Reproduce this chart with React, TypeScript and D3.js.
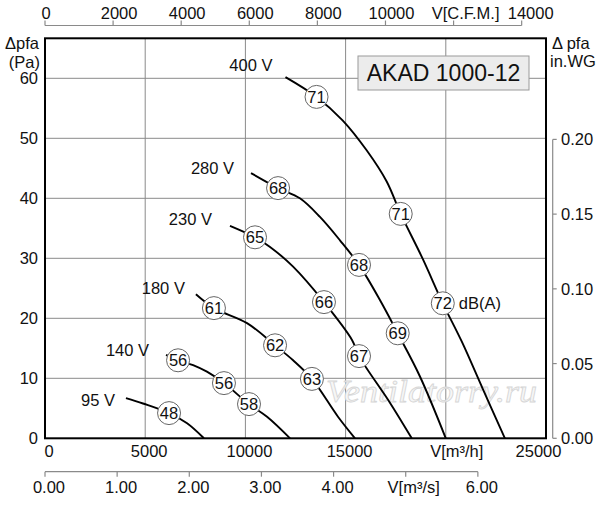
import React from 'react';
import * as d3 from 'd3';

const W = 600;
const H = 505;

// fan curves: [flow m³/h, static pressure Pa]
const curve400V: [number, number][] = [
  [12000, 60.2], [13550, 56.9], [14850, 53.0], [16050, 48.0], [17050, 42.8],
  [17750, 37.4], [18850, 29.9], [19850, 22.5], [20800, 16.1], [21850, 8.2], [22950, 0],
];
const curve280V: [number, number][] = [
  [10280, 44.2], [11630, 41.7], [12720, 40.0], [13720, 36.9], [14720, 33.0],
  [15670, 28.9], [16720, 23.0], [17600, 17.5], [18710, 10.3], [20000, 0],
];
const curve230V: [number, number][] = [
  [9230, 35.4], [10480, 33.5], [11230, 31.9], [12380, 28.6], [13920, 22.7],
  [15320, 16.4], [15670, 13.7], [17220, 5.9], [18300, 0],
];
const curve180V: [number, number][] = [
  [7530, 24.0], [8430, 21.7], [10080, 19.2], [11480, 15.5], [12380, 13.0],
  [13320, 9.9], [14620, 3.6], [15470, 0],
];
const curve140V: [number, number][] = [
  [6040, 13.9], [6640, 13.0], [7390, 12.2], [8080, 11.1], [8930, 9.2],
  [10180, 5.7], [11080, 3.6], [12230, 0],
];
const curve95V: [number, number][] = [
  [4040, 6.7], [4890, 5.8], [6190, 4.2], [7090, 2.5], [7930, 0],
];

// sound level marks: [flow, pressure, dB(A)]
const marks400V: [number, number, number][] = [[13550, 56.9, 71], [17750, 37.4, 71], [19850, 22.5, 72]];
const marks280V: [number, number, number][] = [[11630, 41.7, 68], [15670, 28.9, 68], [17600, 17.5, 69]];
const marks230V: [number, number, number][] = [[10480, 33.5, 65], [13920, 22.7, 66], [15670, 13.7, 67]];
const marks180V: [number, number, number][] = [[8430, 21.7, 61], [11480, 15.5, 62], [13320, 9.9, 63]];
const marks140V: [number, number, number][] = [[6640, 13.0, 56], [8930, 9.2, 56], [10180, 5.7, 58]];
const marks95V: [number, number, number][] = [[6190, 4.2, 48]];

const voltages = ['400 V', '280 V', '230 V', '180 V', '140 V', '95 V'];
const curves = [curve400V, curve280V, curve230V, curve180V, curve140V, curve95V];
const marks = [marks400V, marks280V, marks230V, marks180V, marks140V, marks95V];

// axis ticks
const m3hTicks = [0, 5000, 10000, 15000, 20000, 25000];
const m3hLabels = ['0', '5000', '10000', '15000', 'V[m³/h]', '25000'];
const cfmTicks = [0, 2000, 4000, 6000, 8000, 10000, 12000, 14000];
const cfmLabels = ['0', '2000', '4000', '6000', '8000', '10000', 'V[C.F.M.]', '14000'];
const m3sTicks = [0, 1, 2, 3, 4, 5, 6];
const m3sLabels = ['0.00', '1.00', '2.00', '3.00', '4.00', 'V[m³/s]', '6.00'];
const paTicks = [0, 10, 20, 30, 40, 50, 60];
const wgTicks = [0, 0.05, 0.1, 0.15, 0.2];
const wgLabels = ['0.00', '0.05', '0.10', '0.15', '0.20'];

// pixel nudges for the voltage labels (relative to curve start)
const voltNudge: [number, number][] = [[-13, -12], [-17, -5], [-18, -7], [-11, -6], [-17, -5], [-11, 2]];

const FONT = '"Liberation Sans", Arial, Helvetica, sans-serif';

const App: React.FC = () => {
  const left = 45, right = 546, top = 38.3, bottom = 438.3;
  const x = d3.scaleLinear().domain([0, 25000]).range([left, right]);
  const y = d3.scaleLinear().domain([0, 60]).range([bottom, 78.3]);
  const xCfm = d3.scaleLinear().domain([0, 25000 / 1.699]).range([left, right]);
  const xM3s = d3.scaleLinear().domain([0, 25000 / 3600]).range([left, right]);
  const yWg = d3.scaleLinear().domain([0, 60 / 249.09]).range([bottom, 78.3]);

  const line = d3.line<[number, number]>()
    .x(d => x(d[0]))
    .y(d => y(d[1]))
    .curve(d3.curveCatmullRom.alpha(0.5));

  const gridColor = '#8a8a8a';
  const axisColor = '#8a8a8a';
  const fs = 16.5;

  const topAxisY = 25.5;
  const m3sAxisY = 471.7;
  const wgAxisX = 552.7;

  return (
    <svg width={W} height={H} style={{ position: 'absolute', left: 0, top: 0, background: '#fff' }}
      fontFamily={FONT}>
      <rect x={0} y={0} width={W} height={H} fill="#fff" />

      {/* grid */}
      {m3hTicks.slice(1, -1).map(t => (
        <line key={'gx' + t} x1={x(t)} x2={x(t)} y1={top} y2={bottom} stroke={gridColor} strokeWidth={1} />
      ))}
      {paTicks.slice(1).map(t => (
        <line key={'gy' + t} x1={left} x2={right} y1={y(t)} y2={y(t)} stroke={gridColor} strokeWidth={1} />
      ))}

      {/* watermark */}
      <text x={326} y={402} fontFamily='"Liberation Serif", "DejaVu Serif", serif' fontStyle="italic"
        fontSize={32} textLength={211} lengthAdjust="spacingAndGlyphs"
        fill="#f6f6f6" stroke="#d6d6d6" strokeWidth={0.8}>Ventilatorry.ru</text>

      {/* title box */}
      <rect x={358} y={56} width={171} height={34} fill="#ececec" stroke="#9a9a9a" strokeWidth={1} />
      <text x={443.5} y={80.5} textAnchor="middle" fontSize={23} fill="#111">AKAD 1000-12</text>

      {/* frame */}
      <rect x={left} y={top} width={right - left} height={bottom - top} fill="none" stroke="#000" strokeWidth={2} />

      {/* curves */}
      {curves.map((c, i) => (
        <g key={'c' + i}>
          <path d={line(c) || ''} fill="none" stroke="#000" strokeWidth={1.9} />
          <text x={x(c[0][0]) + voltNudge[i][0]} y={y(c[0][1]) + voltNudge[i][1] + 6}
            textAnchor="end" fontSize={fs} fill="#111">{voltages[i]}</text>
        </g>
      ))}

      {/* dB marks */}
      {marks.map((ms, i) => ms.map((m, j) => (
        <g key={'m' + i + '-' + j}>
          <circle cx={x(m[0])} cy={y(m[1])} r={11.5} fill="#fff" stroke="#666" strokeWidth={1} />
          <text x={x(m[0])} y={y(m[1]) + 6} textAnchor="middle" fontSize={fs} fill="#111">{m[2]}</text>
        </g>
      )))}
      <text x={x(marks400V[2][0]) + 16} y={y(marks400V[2][1]) + 6} fontSize={fs} fill="#111">dB(A)</text>

      {/* left axis */}
      {paTicks.map(t => (
        <text key={'pl' + t} x={38} y={y(t) + 6} textAnchor="end" fontSize={fs} fill="#111">{t}</text>
      ))}
      <text x={39} y={49} textAnchor="end" fontSize={fs} fill="#111">Δpfa</text>
      <text x={40} y={68} textAnchor="end" fontSize={fs} fill="#111">(Pa)</text>

      {/* right axis (in.WG) */}
      <line x1={wgAxisX} x2={wgAxisX} y1={yWg(0.2)} y2={yWg(0)} stroke={axisColor} strokeWidth={1.2} />
      {wgTicks.map((t, i) => (
        <g key={'wg' + t}>
          <line x1={wgAxisX} x2={wgAxisX + 4} y1={yWg(t)} y2={yWg(t)} stroke={axisColor} strokeWidth={1.2} />
          <text x={561} y={yWg(t) + 6} fontSize={fs} fill="#111">{wgLabels[i]}</text>
        </g>
      ))}
      <text x={552} y={49} fontSize={fs} fill="#111">Δ pfa</text>
      <text x={550} y={67} fontSize={fs} fill="#111">in.WG</text>

      {/* bottom axis (m³/h) labels */}
      {m3hTicks.map((t, i) => {
        const dx = i === 4 ? 11 : i === 5 ? -7.5 : 4;
        return (
          <text key={'bh' + t} x={x(t) + dx} y={457} textAnchor="middle" fontSize={fs} fill="#111">{m3hLabels[i]}</text>
        );
      })}

      {/* top axis (CFM) */}
      <line x1={xCfm(0)} x2={xCfm(14000)} y1={topAxisY} y2={topAxisY} stroke={axisColor} strokeWidth={1.2} />
      {cfmTicks.map((t, i) => {
        const dx = i === 0 ? 1 : i === 6 ? 12 : i === 7 ? 9 : 6;
        return (
          <g key={'cfm' + t}>
            <line x1={xCfm(t)} x2={xCfm(t)} y1={topAxisY} y2={topAxisY - 5} stroke={axisColor} strokeWidth={1.2} />
            <text x={xCfm(t) + dx} y={18.5} textAnchor="middle" fontSize={fs} fill="#111">{cfmLabels[i]}</text>
          </g>
        );
      })}

      {/* second bottom axis (m³/s) */}
      <line x1={xM3s(0)} x2={xM3s(6)} y1={m3sAxisY} y2={m3sAxisY} stroke={axisColor} strokeWidth={1.2} />
      {m3sTicks.map((t, i) => {
        const dx = i === 5 ? 8 : 4;
        return (
          <g key={'ms' + t}>
            <line x1={xM3s(t)} x2={xM3s(t)} y1={m3sAxisY} y2={m3sAxisY + 5} stroke={axisColor} strokeWidth={1.2} />
            <text x={xM3s(t) + dx} y={493} textAnchor="middle" fontSize={fs} fill="#111">{m3sLabels[i]}</text>
          </g>
        );
      })}
    </svg>
  );
};

export default App;
